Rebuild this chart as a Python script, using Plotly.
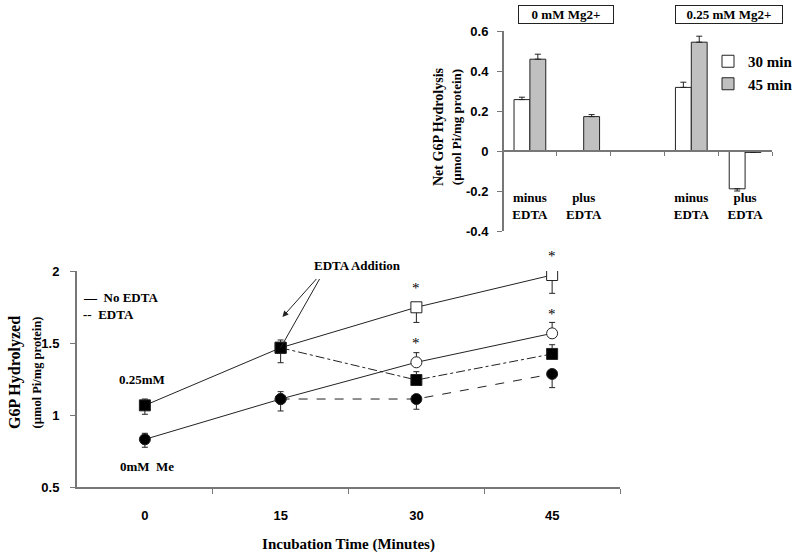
import plotly.graph_objects as go

# ---------------- main chart data ----------------
time_min = [0, 15, 30, 45]
edta_time = [15, 30, 45]

mg025_no_edta = [1.067, 1.467, 1.748, 1.972]
mg025_no_edta_err_up = [0.044, 0.054, 0.0, 0.0]
mg025_no_edta_err_dn = [0.062, 0.104, 0.105, 0.127]

mg0_no_edta = [0.831, 1.111, 1.366, 1.567]
mg0_no_edta_err_up = [0.042, 0.051, 0.067, 0.076]
mg0_no_edta_err_dn = [0.055, 0.083, 0.0, 0.0]

mg025_edta = [1.467, 1.243, 1.424]
mg025_edta_err_up = [0.0, 0.058, 0.064]
mg025_edta_err_dn = [0.0, 0.0, 0.0]

mg0_edta = [1.111, 1.111, 1.285]
mg0_edta_err_up = [0.0, 0.0, 0.0]
mg0_edta_err_dn = [0.0, 0.071, 0.095]

x_tick_labels = ["0", "15", "30", "45"]
y_tick_vals = [0.5, 1, 1.5, 2]

# ---------------- inset data ----------------
inset_slots = [0.5, 1.5, 3.5, 4.5]
inset_labels = ["minus<br>EDTA", "plus<br>EDTA", "minus<br>EDTA", "plus<br>EDTA"]
net_30 = [0.257, 0.0, 0.318, -0.189]
net_30_err_up = [0.012, 0.0, 0.026, 0.0]
net_30_err_dn = [0.0, 0.0, 0.0, 0.011]
net_45 = [0.459, 0.172, 0.544, -0.007]
net_45_err_up = [0.025, 0.010, 0.030, 0.0]
net_45_err_dn = [0.0, 0.0, 0.0, 0.0]

SERIF = "Liberation Serif, Times New Roman, serif"
SANS = "Liberation Sans, Arial, sans-serif"
INK = "#222222"
AXIS = "#777777"

fig = go.Figure()

def err(up, dn):
    return dict(type="data", symmetric=False, array=up, arrayminus=dn,
                color=INK, thickness=1, width=3)

# No EDTA lines (solid)
fig.add_trace(go.Scatter(
    x=time_min, y=mg025_no_edta, mode="lines+markers", showlegend=False,
    line=dict(color=INK, width=1),
    marker=dict(symbol="square", size=11, color=["black", "black", "white", "white"],
                line=dict(color=INK, width=1)),
    error_y=err(mg025_no_edta_err_up, mg025_no_edta_err_dn)))
fig.add_trace(go.Scatter(
    x=time_min, y=mg0_no_edta, mode="lines+markers", showlegend=False,
    line=dict(color=INK, width=1),
    marker=dict(symbol="circle", size=11, color=["black", "black", "white", "white"],
                line=dict(color=INK, width=1)),
    error_y=err(mg0_no_edta_err_up, mg0_no_edta_err_dn)))
# EDTA lines (dashed)
fig.add_trace(go.Scatter(
    x=edta_time, y=mg025_edta, mode="lines+markers", showlegend=False,
    line=dict(color=INK, width=1, dash="dashdot"),
    marker=dict(symbol="square", size=11, color="black", line=dict(color=INK, width=1)),
    error_y=err(mg025_edta_err_up, mg025_edta_err_dn)))
fig.add_trace(go.Scatter(
    x=edta_time, y=mg0_edta, mode="lines+markers", showlegend=False,
    line=dict(color=INK, width=1, dash="dash"),
    marker=dict(symbol="circle", size=11, color="black", line=dict(color=INK, width=1)),
    error_y=err(mg0_edta_err_up, mg0_edta_err_dn)))

# Inset bars
fig.add_trace(go.Bar(
    x=inset_slots, y=net_30, name="30 min", xaxis="x2", yaxis="y2",
    marker=dict(color="white", line=dict(color=INK, width=1)),
    error_y=err(net_30_err_up, net_30_err_dn)))
fig.add_trace(go.Bar(
    x=inset_slots, y=net_45, name="45 min", xaxis="x2", yaxis="y2",
    marker=dict(color="#c0c0c0", line=dict(color=INK, width=1)),
    error_y=err(net_45_err_up, net_45_err_dn)))

annotations = []
# significance asterisks
for xv, yv in [(30, mg025_no_edta[2]), (45, mg025_no_edta[3]),
               (30, mg0_no_edta[2]), (45, mg0_no_edta[3])]:
    annotations.append(dict(x=xv, y=yv, xref="x", yref="y", text="*", showarrow=False,
                            yshift=19, font=dict(family=SERIF, size=15, color="black")))
# labels
annotations += [
    dict(x=-0.3, y=1.25, xref="x", yref="y", text="<b>0.25mM</b>", showarrow=False,
         font=dict(family=SERIF, size=13, color="black")),
    dict(x=0.2, y=0.64, xref="x", yref="y", text="<b>0mM  Me</b>", showarrow=False,
         font=dict(family=SERIF, size=13, color="black")),
    dict(x=357 / 800, y=1 - 265 / 554, xref="paper", yref="paper", text="<b>EDTA Addition</b>",
         xanchor="center", yanchor="middle",
         showarrow=False, font=dict(family=SERIF, size=13, color="black")),
    dict(x=15.2, y=1.68, xref="x", yref="y", ax=19.1, ay=1.955, axref="x", ayref="y",
         text="", showarrow=True, arrowhead=2, arrowsize=1.2, arrowwidth=1, arrowcolor=INK),
    dict(x=15.0, y=1.467, xref="x", yref="y", ax=19.4, ay=1.955, axref="x", ayref="y",
         text="", showarrow=True, arrowhead=0, arrowwidth=1, arrowcolor=INK),
    # legend of main chart
    dict(x=81 / 800, y=1 - 297 / 554, xref="paper", yref="paper", xanchor="left",
         yanchor="middle", text="<b>—  No EDTA</b>", showarrow=False,
         font=dict(family=SERIF, size=13, color="black")),
    dict(x=81 / 800, y=1 - 314 / 554, xref="paper", yref="paper", xanchor="left",
         yanchor="middle", text="<b>--  EDTA</b>", showarrow=False,
         font=dict(family=SERIF, size=13, color="black")),
    # main y title
    dict(x=25 / 800, y=1 - 373 / 554, xref="paper", yref="paper", textangle=-90,
         xanchor="center", yanchor="middle",
         text="<b>G6P Hydrolyzed</b><br><b><span style='font-size:12.5px'>(µmol Pi/mg protein)</span></b>",
         showarrow=False, font=dict(family=SERIF, size=16, color="black")),
    # inset group boxes
    dict(x=1.18, y=1 - 14 / 554, xref="x2", yref="paper", yanchor="middle",
         text="<b>0 mM Mg2+</b>",
         showarrow=False, width=92, height=15, bordercolor=INK, borderwidth=1,
         bgcolor="white", font=dict(family=SERIF, size=13, color="black")),
    dict(x=4.2, y=1 - 14 / 554, xref="x2", yref="paper", yanchor="middle",
         text="<b>0.25 mM Mg2+</b>",
         showarrow=False, width=104, height=15, bordercolor=INK, borderwidth=1,
         bgcolor="white", font=dict(family=SERIF, size=13, color="black")),
    # inset y title
    dict(x=447 / 800, y=1 - 127 / 554, xref="paper", yref="paper", textangle=-90,
         xanchor="center", yanchor="middle",
         text="<b>Net G6P Hydrolysis</b><br><b><span style='font-size:13px'>(µmol Pi/mg protein)</span></b>",
         showarrow=False, font=dict(family=SERIF, size=14, color="black")),
]

fig.update_layout(
    width=800, height=554,
    margin=dict(l=0, r=0, t=0, b=0, autoexpand=False),
    paper_bgcolor="white", plot_bgcolor="white",
    barmode="group", bargap=0.41, bargroupgap=0,
    showlegend=True,
    legend=dict(x=708 / 800, y=1 - 45 / 554, xanchor="left", yanchor="top",
                bgcolor="rgba(0,0,0,0)", itemwidth=30, tracegroupgap=0,
                font=dict(family=SERIF, size=15, color="black", weight="bold")),
    xaxis=dict(domain=[77 / 800, 620 / 800], anchor="y", range=[-7.5, 52.5],
               tickmode="array", tickvals=time_min, ticktext=x_tick_labels,
               ticks="", showgrid=False, zeroline=False,
               showline=True, linecolor=AXIS, linewidth=2,
               ticklabelstandoff=15,
               minor=dict(tickmode="array", tickvals=[7.5, 22.5, 37.5, 52.5],
                          ticks="outside", ticklen=5, tickcolor=AXIS, tickwidth=1),
               tickfont=dict(family=SANS, size=13, color="black", weight="bold"),
               title=dict(text="<b>Incubation Time (Minutes)</b>", standoff=17,
                          font=dict(family=SERIF, size=15, color="black"))),
    yaxis=dict(domain=[1 - 487 / 554, 1 - 271 / 554], anchor="x", range=[0.5, 2],
               tickmode="array", tickvals=y_tick_vals, ticks="outside", ticklen=5,
               tickcolor=AXIS, showgrid=False, zeroline=False,
               showline=True, linecolor=AXIS, linewidth=2, ticklabelstandoff=8,
               tickfont=dict(family=SANS, size=13, color="black", weight="bold")),
    xaxis2=dict(domain=[503 / 800, 772 / 800], anchor="free", position=1 - 151 / 554,
                range=[0, 5], tickmode="array", tickvals=inset_slots, ticktext=inset_labels,
                ticks="", showgrid=False, zeroline=False,
                showline=True, linecolor=AXIS, linewidth=2, ticklabelstandoff=34,
                minor=dict(tickmode="array", tickvals=[1, 2, 3, 4, 5], ticks="outside",
                           ticklen=4, tickcolor=AXIS, tickwidth=1),
                tickfont=dict(family=SERIF, size=13, color="black", weight="bold")),
    yaxis2=dict(domain=[1 - 231 / 554, 1 - 31 / 554], anchor="free", position=503 / 800,
                range=[-0.4, 0.6], tickmode="array", tickvals=[-0.4, -0.2, 0, 0.2, 0.4, 0.6],
                ticktext=["-0.4", "-0.2", "0", "0.2", "0.4", "0.6"],
                ticks="outside", ticklen=5, tickcolor=AXIS, showgrid=False, zeroline=False,
                showline=True, linecolor=AXIS, linewidth=2, ticklabelstandoff=6,
                tickfont=dict(family=SANS, size=13, color="black", weight="bold")),
    annotations=annotations,
)

fig.write_html("out.html", config={"displayModeBar": False},
               post_script="document.body.style.margin='0';")
